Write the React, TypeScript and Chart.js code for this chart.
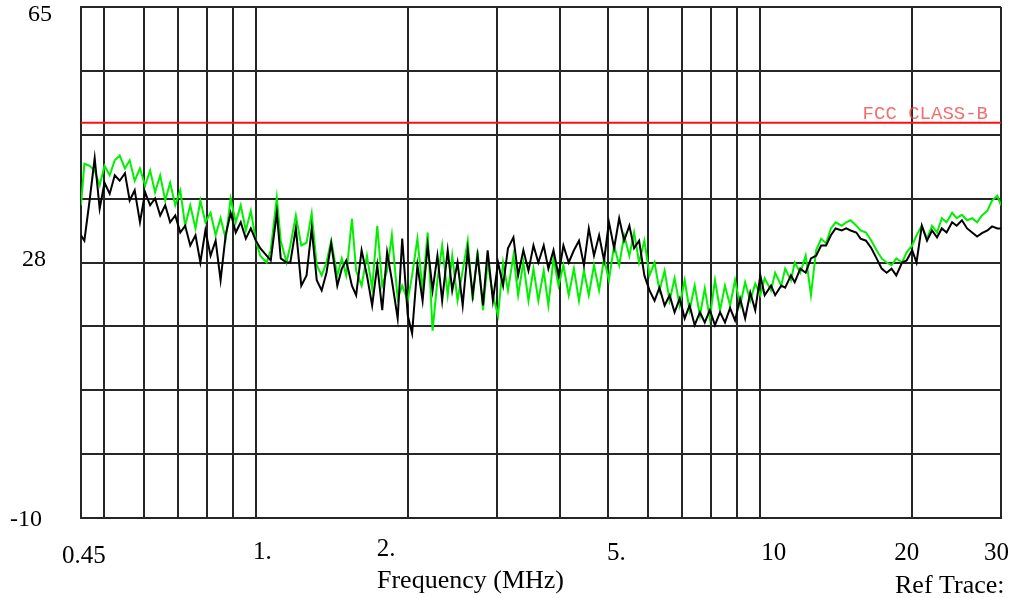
import React, { useEffect, useRef } from 'react';
import { Chart, registerables } from 'chart.js';

Chart.register(...registerables);

// Sweep frequencies (MHz)
const FREQ = [
  0.45, 0.457, 0.468, 0.479, 0.49, 0.501, 0.513, 0.525, 0.537, 0.55, 0.562, 0.575, 0.589, 0.603, 0.617, 0.631, 0.646,
  0.661, 0.676, 0.692, 0.708, 0.724, 0.741, 0.759, 0.776, 0.794, 0.813, 0.832, 0.851, 0.871, 0.891, 0.912, 0.933, 0.955, 0.977,
  1.0, 1.02, 1.05, 1.07, 1.1, 1.12, 1.15, 1.17, 1.2, 1.23, 1.26, 1.29, 1.32, 1.35, 1.38, 1.41, 1.45, 1.48, 1.51, 1.55,
  1.58, 1.62, 1.66, 1.7, 1.74, 1.78, 1.82, 1.86, 1.91, 1.95,
  2.0, 2.04, 2.09, 2.14, 2.19, 2.24, 2.29, 2.34, 2.4, 2.45, 2.51, 2.57, 2.63, 2.69, 2.75, 2.82, 2.88, 2.95,
  3.02, 3.09, 3.16, 3.24, 3.31, 3.39, 3.47, 3.55, 3.63, 3.72, 3.8, 3.89, 3.98,
  4.07, 4.17, 4.27, 4.37, 4.47, 4.57, 4.68, 4.79, 4.9,
  5.01, 5.13, 5.25, 5.37, 5.5, 5.62, 5.75, 5.89,
  6.03, 6.17, 6.31, 6.46, 6.61, 6.76, 6.92,
  7.08, 7.24, 7.41, 7.59, 7.76, 7.94,
  8.13, 8.32, 8.51, 8.71, 8.91,
  9.12, 9.33, 9.55, 9.77,
  10.0, 10.2, 10.5, 10.7, 11.0, 11.2, 11.5, 11.7, 12.0, 12.3, 12.6, 12.9, 13.2, 13.5, 13.8, 14.1, 14.5, 14.8, 15.1,
  15.5, 15.8, 16.2, 16.6, 17.0, 17.4, 17.8, 18.2, 18.6, 19.1, 19.5,
  20.0, 20.4, 20.9, 21.4, 21.9, 22.4, 22.9, 23.4, 24.0, 24.5, 25.1, 25.7, 26.3, 26.9, 27.5, 28.2, 28.8, 29.5, 30.0,
];

// Green trace (dBuV)
const TRACE_GREEN = [
  35.9, 42.0, 41.7, 41.0, 38.8, 41.7, 40.3, 42.5, 43.2, 41.3,
  42.5, 39.5, 41.3, 38.8, 41.0, 37.8, 40.3, 36.6, 39.2, 35.9,
  38.1, 32.9, 35.9, 32.5, 36.6, 33.4, 34.8, 31.5, 34.0, 31.0,
  36.9, 33.4, 35.9, 32.2, 35.1, 30.7, 28.5, 27.5, 29.3, 37.0,
  30.7, 27.5, 30.0, 34.4, 30.0, 30.4, 34.7, 27.1, 25.6, 27.5,
  30.7, 25.6, 28.1, 25.6, 33.9, 26.3, 24.1, 28.5, 23.7, 32.9,
  24.1, 26.3, 31.5, 22.2, 24.1, 21.9, 25.6, 31.0, 23.4, 31.9,
  17.5, 24.9, 30.0, 22.7, 28.5, 21.9, 26.3, 30.7, 21.9, 29.3,
  20.5, 27.5, 22.7, 19.7, 27.5, 23.4, 28.5, 22.7, 27.5, 21.9,
  26.6, 21.9, 26.3, 21.2, 28.1, 24.1, 27.1, 22.7, 26.6, 21.9,
  26.3, 22.7, 27.1, 23.4, 28.1, 24.9, 30.0, 27.1, 31.5, 28.5,
  31.9, 27.5, 30.7, 25.6, 27.5, 23.4, 26.3, 21.9, 25.2, 21.2,
  24.9, 20.5, 24.1, 19.7, 23.7, 19.3, 24.9, 20.5, 24.1, 21.2,
  24.9, 21.2, 24.6, 21.9, 24.4, 22.7, 25.2, 23.4, 26.0, 24.1,
  26.6, 24.9, 27.5, 26.0, 28.5, 22.7, 29.3, 31.0, 30.3, 32.5,
  33.4, 32.9, 33.4, 33.7, 32.9, 32.2, 31.9, 30.7, 29.3, 28.1,
  27.5, 27.1, 28.1, 27.5, 29.0, 30.0, 31.5, 32.9, 31.0, 32.9,
  31.9, 34.0, 33.4, 34.8, 34.0, 34.5, 33.7, 34.0, 33.4, 34.4,
  35.1, 36.6, 37.3, 35.9,
];

// Black trace (dBuV)
const TRACE_BLACK = [
  31.5, 30.7, 36.6, 42.8, 35.4, 39.2, 37.6, 40.3, 39.5, 40.6,
  36.6, 38.1, 33.4, 37.8, 35.9, 36.9, 34.4, 35.9, 33.4, 34.4,
  31.9, 32.9, 30.0, 31.5, 27.5, 32.2, 28.5, 30.7, 24.9, 31.5,
  34.8, 31.9, 33.4, 31.0, 32.5, 30.7, 29.6, 28.5, 27.8, 34.8,
  28.1, 27.5, 27.5, 32.5, 24.1, 25.6, 32.5, 24.9, 23.4, 26.0,
  30.3, 24.1, 26.6, 27.8, 24.1, 22.7, 29.3, 25.6, 21.2, 27.1,
  20.5, 29.0, 24.9, 19.3, 31.0, 19.7, 17.1, 27.1, 21.9, 30.0,
  23.4, 28.5, 21.9, 29.3, 23.4, 27.5, 21.2, 29.3, 22.7, 28.5,
  21.2, 29.3, 21.9, 27.5, 24.1, 29.6, 31.2, 25.6, 29.3, 26.3,
  30.0, 27.5, 30.0, 26.6, 29.3, 25.6, 30.0, 27.5, 29.3, 30.7,
  27.1, 32.5, 28.5, 31.5, 27.8, 33.4, 29.6, 34.0, 30.7, 32.9,
  29.6, 30.7, 25.6, 23.4, 21.9, 23.8, 21.2, 22.7, 20.2, 22.2,
  19.3, 21.2, 18.3, 20.2, 18.7, 20.5, 18.3, 20.2, 18.7, 20.8,
  19.0, 22.2, 19.3, 23.1, 20.5, 25.6, 22.7, 24.1, 22.7, 24.1,
  23.8, 25.6, 24.6, 26.6, 26.0, 28.1, 28.5, 30.0, 30.0, 31.5,
  32.5, 32.2, 32.5, 32.2, 31.9, 31.0, 30.7, 29.6, 28.1, 26.6,
  26.0, 26.6, 25.6, 27.5, 27.8, 29.3, 27.5, 32.9, 30.7, 32.2,
  31.2, 32.5, 31.9, 33.4, 32.9, 33.7, 32.5, 31.9, 31.3, 31.8,
  32.2, 32.8, 32.5, 32.5,
];

const FCC_LIMIT = 48;
const FCC_LABEL = 'FCC CLASS-B';

const X_GRID = [0.45, 0.5, 0.6, 0.7, 0.8, 0.9, 1, 2, 3, 4, 5, 6, 7, 8, 9, 10, 20, 30];
const Y_GRID = [-10, -0.625, 8.75, 18.125, 27.5, 36.875, 46.25, 55.625, 65];

const X_TICK_VALUES = [0.45, 1, 2, 5, 10, 20, 30];
const X_TICK_TEXT = ['0.45', '1.', '2.', '5.', '10', '20', '30'];
const Y_TICK_VALUES = [65, 27.5, -10];
const Y_TICK_TEXT = ['65', '28', '-10'];

const X_TITLE = 'Frequency (MHz)';
const REF_TEXT = 'Ref Trace:';

export default function App() {
  const ref = useRef<HTMLCanvasElement | null>(null);

  useEffect(() => {
    const canvas = ref.current;
    if (!canvas) return;

    const labelPlugin = {
      id: 'emcLabels',
      afterDraw(chart: any) {
        const { ctx } = chart;
        const xs = chart.scales.x;
        const ys = chart.scales.y;
        ctx.save();

        // FCC limit caption
        ctx.font = '19px "Liberation Mono", "DejaVu Sans Mono", monospace';
        ctx.fillStyle = 'rgba(240, 60, 60, 0.75)';
        ctx.textAlign = 'right';
        ctx.textBaseline = 'alphabetic';
        ctx.fillText(FCC_LABEL, xs.right - 13, ys.getPixelForValue(FCC_LIMIT) - 4);

        ctx.fillStyle = '#000';
        ctx.textAlign = 'left';

        // X tick labels
        const xOffsets = [-19, -3, -31, -1.5, 1, -18, -17];
        const xBaselines = [45, 41, 38, 42, 42, 42, 42];
        ctx.font = '25px "Liberation Serif", "Times New Roman", serif';
        X_TICK_VALUES.forEach((v, i) => {
          ctx.fillText(X_TICK_TEXT[i], xs.getPixelForValue(v) + xOffsets[i], ys.bottom + xBaselines[i]);
        });

        // Y tick labels
        const yLeft = [-53, -59, -71];
        const yBase = [14, 3, 8];
        ctx.font = '24px "Liberation Serif", "Times New Roman", serif';
        Y_TICK_VALUES.forEach((v, i) => {
          ctx.fillText(Y_TICK_TEXT[i], xs.left + yLeft[i], ys.getPixelForValue(v) + yBase[i]);
        });

        // Axis title and ref trace caption
        ctx.font = '26px "Liberation Serif", "Times New Roman", serif';
        ctx.fillText(X_TITLE, 377, ys.bottom + 70);
        ctx.fillText(REF_TEXT, 895, ys.bottom + 75);

        ctx.restore();
      },
    };

    const chart = new Chart(canvas, {
      type: 'line',
      data: {
        datasets: [
          {
            label: 'Trace 2',
            data: FREQ.map((f, i) => ({ x: f, y: TRACE_BLACK[i] })),
            borderColor: '#000000',
            borderWidth: 2,
            pointRadius: 0,
            tension: 0,
          },
          {
            label: 'Trace 1',
            data: FREQ.map((f, i) => ({ x: f, y: TRACE_GREEN[i] })),
            borderColor: '#00f000',
            borderWidth: 2,
            pointRadius: 0,
            tension: 0,
          },
          {
            label: FCC_LABEL,
            data: [
              { x: FREQ[0], y: FCC_LIMIT },
              { x: FREQ[FREQ.length - 1], y: FCC_LIMIT },
            ],
            borderColor: '#ff1010',
            borderWidth: 2,
            pointRadius: 0,
          },
        ],
      },
      options: {
        responsive: false,
        animation: false,
        events: [],
        layout: { padding: { left: 81, top: 7, right: 18, bottom: 80 } },
        plugins: { legend: { display: false }, tooltip: { enabled: false } },
        scales: {
          x: {
            type: 'logarithmic',
            min: 0.45,
            max: 30,
            afterBuildTicks: (s: any) => {
              s.ticks = X_GRID.map((v) => ({ value: v }));
            },
            ticks: { display: false },
            grid: { color: '#262626', lineWidth: 2, drawTicks: false },
            border: { display: true, color: '#262626', width: 2 },
          },
          y: {
            type: 'linear',
            min: -10,
            max: 65,
            afterBuildTicks: (s: any) => {
              s.ticks = Y_GRID.map((v) => ({ value: v }));
            },
            ticks: { display: false },
            grid: { color: '#262626', lineWidth: 2, drawTicks: false },
            border: { display: true, color: '#262626', width: 2 },
          },
        },
      },
      plugins: [labelPlugin],
    } as any);

    return () => chart.destroy();
  }, []);

  return (
    <div style={{ position: 'absolute', left: 0, top: 0, width: 1019, height: 598, background: '#fff' }}>
      <canvas ref={ref} width={1019} height={598} style={{ display: 'block' }} />
    </div>
  );
}
